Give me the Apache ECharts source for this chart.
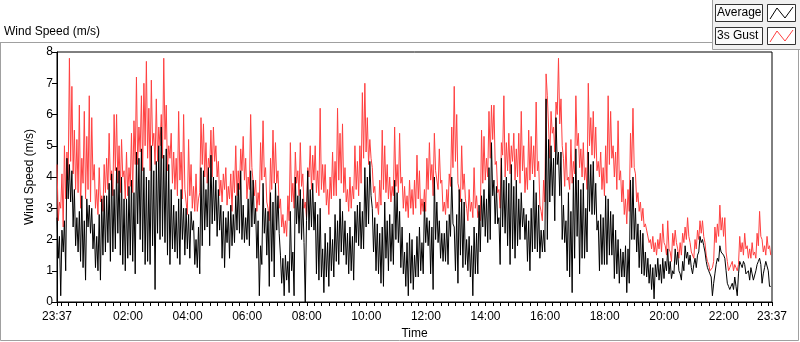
<!DOCTYPE html>
<html>
<head>
<meta charset="utf-8">
<script src="https://cdn.jsdelivr.net/npm/echarts@6/dist/echarts.min.js"></script>
<style>
  html, body { margin: 0; padding: 0; background: #fff; }
  #chart { width: 800px; height: 342px; }
</style>
</head>
<body>
<div id="chart"></div>
<script>
// one sample every 2.5 minutes, starting at 23:37
var stepMin = 2.5;

var gust = [
  4.4, 2.6, 3.2, 3.0, 4.1, 2.4, 5.0, 3.3, 4.8, 3.9, 7.8, 4.5, 6.9, 4.1, 5.5, 3.6,
  5.2, 3.5, 6.3, 3.0, 4.6, 3.8, 6.1, 3.3, 5.3, 3.6, 6.6, 3.2, 5.9, 3.9, 4.4, 3.0,
  3.6, 2.8, 4.3, 3.2, 3.4, 2.9, 4.4, 3.5, 4.6, 3.6, 5.4, 3.9, 4.2, 3.4, 6.0, 4.2,
  6.0, 3.8, 5.0, 3.5, 5.2, 4.0, 4.2, 3.3, 4.8, 3.4, 4.3, 3.7, 5.4, 3.5, 5.8, 4.4,
  7.2, 4.4, 5.6, 4.8, 6.6, 4.2, 7.0, 5.0, 7.7, 4.6, 6.2, 4.2, 7.1, 5.0, 5.4, 4.4,
  6.5, 4.5, 5.6, 5.0, 6.0, 4.6, 7.8, 5.2, 6.3, 4.2, 5.0, 4.6, 5.4, 3.8, 4.8, 3.6,
  4.6, 3.4, 6.1, 3.9, 4.8, 3.3, 6.0, 3.6, 3.2, 2.8, 5.2, 3.4, 4.4, 3.0, 3.7, 2.9,
  4.1, 2.9, 3.3, 3.5, 5.9, 4.4, 5.7, 4.0, 5.1, 3.8, 4.6, 4.3, 5.5, 4.0, 5.6, 4.5,
  5.0, 4.0, 4.5, 3.4, 3.9, 3.2, 4.1, 3.6, 4.3, 3.1, 3.7, 3.3, 4.1, 2.9, 4.2, 3.5,
  5.0, 3.4, 4.2, 3.6, 4.9, 4.2, 5.3, 3.9, 4.6, 3.3, 4.0, 3.6, 6.0, 4.3, 4.3, 3.4,
  3.9, 2.9, 3.5, 3.1, 5.1, 3.9, 5.8, 4.0, 4.3, 3.2, 3.0, 2.6, 4.6, 3.6, 5.5, 3.8,
  5.1, 3.8, 4.2, 3.0, 3.3, 2.4, 2.8, 2.2, 2.6, 2.1, 3.4, 2.6, 5.1, 3.2, 3.8, 3.0,
  4.8, 3.8, 4.2, 3.4, 5.1, 3.7, 4.1, 3.0, 3.2, 2.7, 4.3, 4.0, 5.0, 3.6, 4.7, 3.9,
  5.0, 3.5, 4.2, 3.4, 6.2, 3.6, 4.4, 3.5, 4.4, 3.1, 3.6, 2.8, 4.0, 3.3, 4.8, 3.4,
  4.5, 3.4, 6.2, 3.9, 5.4, 3.8, 5.7, 3.5, 4.3, 3.2, 3.6, 2.9, 4.0, 3.0, 3.7, 3.3,
  5.0, 3.6, 4.5, 3.4, 5.0, 3.8, 6.7, 4.6, 7.0, 4.8, 5.9, 4.4, 5.2, 4.6, 4.3, 3.5,
  3.7, 3.0, 3.2, 2.8, 3.9, 3.1, 5.5, 3.6, 5.0, 3.5, 4.4, 3.3, 4.0, 3.2, 3.7, 3.4,
  5.6, 3.7, 4.4, 3.5, 5.4, 3.8, 4.0, 3.0, 3.7, 2.9, 3.4, 2.7, 3.9, 3.0, 3.6, 2.8,
  3.9, 3.0, 4.7, 3.3, 4.2, 2.8, 3.3, 2.9, 3.6, 2.9, 4.6, 3.6, 5.1, 3.9, 4.4, 3.4,
  5.4, 4.2, 4.2, 3.6, 4.9, 3.8, 3.9, 2.9, 3.2, 2.8, 3.6, 3.0, 4.1, 3.7, 5.6, 4.3,
  6.9, 4.5, 6.0, 3.8, 3.6, 3.2, 5.0, 3.6, 4.1, 3.3, 3.0, 2.6, 3.6, 2.9, 3.2, 2.7,
  4.3, 3.0, 3.4, 2.7, 2.9, 2.6, 5.5, 3.8, 5.3, 3.9, 4.6, 4.0, 6.1, 4.6, 6.3, 5.2,
  6.3, 4.4, 4.5, 3.5, 3.6, 3.0, 5.1, 4.7, 6.6, 4.0, 5.1, 4.2, 5.4, 4.1, 5.0, 4.5,
  5.4, 3.9, 4.9, 4.0, 5.4, 3.8, 6.1, 4.2, 5.0, 3.5, 4.3, 3.6, 5.5, 3.9, 5.3, 4.1,
  5.0, 4.0, 6.4, 4.2, 4.5, 3.1, 2.9, 2.6, 3.9, 3.2, 7.3, 6.6, 5.6, 4.6, 6.1, 5.4,
  5.6, 4.8, 6.4, 6.0, 7.8, 5.7, 6.5, 5.0, 4.6, 3.7, 5.1, 3.9, 4.0, 3.6, 5.2, 3.8,
  4.5, 4.1, 6.6, 5.0, 5.4, 4.3, 4.9, 4.0, 5.1, 3.9, 4.3, 3.6, 7.0, 5.0, 5.9, 4.7,
  6.1, 4.6, 5.6, 4.2, 4.5, 4.0, 4.8, 3.6, 4.3, 3.4, 5.0, 3.8, 6.6, 4.4, 6.1, 4.6,
  5.0, 4.0, 4.8, 3.6, 5.8, 3.9, 4.2, 3.2, 3.9, 2.8, 3.3, 2.5, 3.6, 2.9, 5.4, 4.3,
  6.2, 4.3, 4.1, 3.2, 3.5, 2.9, 3.2, 2.6, 3.0, 2.4, 2.5, 2.3, 2.3, 1.9, 2.0, 1.7,
  2.1, 1.6, 1.9, 1.5, 2.0, 1.7, 2.2, 1.6, 2.5, 1.9, 1.8, 1.5, 2.6, 1.7, 1.6, 1.3,
  2.2, 1.8, 2.3, 1.9, 1.7, 1.4, 1.9, 1.5, 2.2, 1.9, 2.4, 2.0, 2.7, 2.1, 1.9, 1.6,
  1.6, 1.4, 2.0, 1.7, 2.3, 2.0, 2.6, 2.2, 2.6, 2.1, 1.9, 1.5, 1.3, 1.2, 1.0, 1.0,
  1.1, 1.3, 2.4, 1.9, 2.5, 2.1, 3.1, 2.3, 2.7, 2.1, 2.7, 1.6, 1.3, 1.0, 1.1, 1.2,
  1.3, 1.0, 1.2, 1.1, 1.0, 1.2, 2.1, 1.6, 1.9, 1.5, 2.2, 1.7, 1.8, 1.4, 1.7, 1.4,
  1.9, 1.5, 1.6, 1.4, 2.2, 1.8, 2.9, 2.1, 2.0, 1.6, 1.8, 1.5, 2.1, 1.7, 1.8, 1.5
];

var average = [
  2.7, 1.4, 2.1, 0.2, 2.3, 1.6, 2.6, 1.0, 4.6, 3.3, 4.4, 3.2, 4.2, 2.4, 3.6, 1.8,
  2.7, 1.6, 2.9, 1.3, 3.4, 1.1, 2.6, 0.7, 3.3, 2.4, 3.1, 2.2, 3.0, 1.7, 2.5, 1.1,
  2.1, 1.0, 2.8, 0.7, 3.3, 1.5, 3.4, 1.6, 3.4, 1.9, 3.8, 1.3, 4.1, 1.6, 3.6, 1.7,
  4.3, 2.2, 4.2, 1.5, 4.0, 1.2, 3.3, 1.0, 3.3, 1.4, 3.7, 1.5, 3.9, 1.3, 3.5, 0.9,
  4.8, 2.5, 4.6, 2.0, 4.9, 1.6, 4.3, 1.2, 4.0, 1.3, 3.9, 1.2, 5.0, 1.8, 4.2, 0.4,
  4.5, 2.2, 5.0, 2.0, 5.6, 2.1, 4.7, 1.9, 4.9, 1.5, 4.4, 1.2, 3.6, 1.7, 3.1, 1.6,
  2.9, 1.4, 3.3, 1.2, 3.6, 2.0, 3.0, 1.5, 3.0, 1.7, 2.8, 1.4, 2.9, 2.3, 2.6, 1.2,
  2.0, 1.1, 2.4, 0.9, 4.3, 1.8, 4.2, 2.3, 3.6, 2.4, 4.3, 1.8, 4.7, 2.5, 4.0, 2.6,
  3.9, 2.1, 3.6, 2.3, 3.1, 1.4, 2.9, 1.1, 2.7, 1.9, 2.9, 1.4, 3.1, 1.8, 2.8, 1.9,
  3.4, 2.3, 3.8, 2.2, 4.2, 2.0, 3.1, 1.9, 2.7, 2.0, 3.3, 1.8, 4.2, 2.4, 3.9, 2.5,
  3.0, 1.4, 2.6, 0.2, 1.8, 1.2, 3.8, 2.2, 3.0, 1.5, 2.9, 0.5, 3.5, 1.3, 3.2, 0.8,
  3.8, 2.3, 3.4, 2.2, 1.5, 0.6, 1.4, 0.2, 1.5, 0.7, 1.3, 0.3, 2.9, 1.0, 1.6, 0.2,
  4.0, 2.5, 3.4, 2.2, 3.6, 2.0, 3.3, 1.9, 0.0, 2.6, 4.2, 2.3, 3.6, 2.4, 3.8, 2.3,
  3.2, 0.9, 2.8, 0.7, 3.0, 0.8, 1.7, 0.3, 2.2, 0.8, 1.9, 0.5, 2.4, 1.0, 2.0, 0.8,
  2.8, 1.3, 2.6, 1.2, 3.3, 1.6, 2.9, 1.5, 2.6, 1.2, 2.2, 0.9, 2.4, 1.0, 2.1, 0.7,
  2.9, 1.9, 3.1, 1.8, 3.2, 1.7, 2.9, 1.7, 4.3, 2.4, 4.0, 2.5, 4.5, 3.4, 3.0, 1.6,
  2.7, 1.0, 2.5, 0.9, 2.2, 0.6, 2.4, 0.5, 3.2, 1.4, 2.6, 1.0, 2.8, 1.3, 2.5, 1.2,
  3.9, 2.0, 3.5, 1.9, 2.9, 1.1, 2.4, 0.9, 1.6, 0.5, 1.9, 0.2, 2.2, 0.6, 2.0, 0.4,
  1.5, 0.8, 2.1, 0.8, 2.4, 1.0, 1.9, 0.9, 3.2, 1.9, 2.7, 1.8, 2.6, 0.9, 2.4, 0.4,
  4.0, 2.0, 3.2, 1.9, 2.6, 1.4, 2.2, 1.3, 2.2, 1.3, 2.6, 1.2, 2.8, 2.1, 4.0, 2.5,
  2.4, 1.0, 2.8, 0.6, 3.6, 1.5, 3.3, 1.1, 3.2, 1.2, 2.0, 1.0, 2.1, 0.8, 1.8, 0.2,
  2.4, 0.9, 2.2, 0.9, 3.1, 1.6, 3.4, 2.4, 3.6, 2.1, 3.3, 1.9, 4.3, 2.0, 5.1, 3.4,
  3.9, 2.5, 3.7, 2.5, 2.7, 1.2, 4.6, 2.4, 3.9, 2.2, 4.0, 1.8, 3.8, 1.2, 4.4, 1.7,
  3.7, 1.4, 3.9, 1.8, 3.3, 2.0, 3.5, 2.4, 3.0, 2.0, 2.8, 1.3, 2.6, 1.0, 3.0, 1.6,
  3.9, 1.7, 3.5, 1.6, 3.1, 1.4, 2.3, 1.6, 2.3, 1.6, 6.5, 2.0, 5.2, 3.2, 5.0, 3.4,
  4.6, 2.6, 5.9, 4.4, 4.8, 3.4, 4.8, 2.0, 3.1, 1.9, 2.6, 1.0, 3.5, 0.8, 2.9, 0.3,
  4.0, 1.4, 4.9, 2.1, 3.9, 0.9, 3.6, 1.4, 3.8, 1.4, 3.0, 1.6, 4.8, 2.9, 4.4, 2.8,
  4.5, 2.8, 3.8, 2.3, 2.6, 1.0, 2.8, 1.2, 2.7, 1.2, 3.4, 1.2, 3.3, 1.5, 2.9, 1.5,
  2.8, 0.75, 2.3, 0.9, 2.0, 0.6, 1.7, 0.8, 1.6, 0.8, 1.8, 0.3, 1.7, 0.6, 3.9, 2.0,
  4.0, 2.0, 3.0, 1.6, 2.5, 1.1, 2.3, 0.9, 2.2, 0.85, 1.6, 0.8, 1.4, 0.6, 1.2, 0.4,
  1.1, 0.1, 1.2, 0.8, 1.4, 0.7, 1.2, 0.6, 1.4, 0.75, 1.3, 1.0, 1.7, 0.9, 1.3, 0.75,
  1.0, 0.9, 1.7, 1.2, 1.6, 1.0, 0.9, 0.7, 1.3, 1.0, 1.8, 1.4, 1.6, 1.2, 1.5, 1.1,
  0.9, 1.2, 1.4, 1.1, 1.5, 1.6, 2.1, 1.9, 2.0, 1.8, 1.6, 1.3, 1.1, 1.0, 0.9, 0.8,
  0.2, 0.6, 0.9, 1.2, 1.4, 1.3, 1.8, 1.6, 1.6, 1.5, 1.4, 1.0, 0.6, 0.5, 0.4, 0.5,
  0.6, 0.4, 0.8, 0.5, 0.2, 0.9, 1.3, 1.2, 1.1, 1.3, 1.2, 0.9, 0.9, 1.0, 0.7, 1.1,
  0.9, 0.7, 0.75, 1.0, 1.2, 1.3, 1.4, 1.2, 0.6, 0.9, 1.1, 1.3, 1.3, 1.0, 0.5, 0.5
];

// minutes after 23:37 where the time labels sit
var labelMinutes = [0, 143, 263, 383, 503, 623, 743, 863, 983, 1103, 1223, 1343, 1440];
var labelTexts = ["23:37", "02:00", "04:00", "06:00", "08:00", "10:00", "12:00",
                  "14:00", "16:00", "18:00", "20:00", "22:00", "23:37"];

var font = "Liberation Sans";

function toPairs(values) {
  return values.map(function (v, i) {
    return [i * stepMin, v];
  });
}

// small ticks every 15 minutes (23:45, 00:00, ...) plus both ends
var tickMinutes = [0];
for (var m = 8; m < 1440; m += 15) tickMinutes.push(m);
tickMinutes.push(1440);

var chart = echarts.init(document.getElementById("chart"), null, { renderer: "canvas" });

var option = {
  animation: false,
  backgroundColor: "#fff",
  textStyle: { fontFamily: font },
  grid: {
    left: 57,
    right: 28,
    top: 52,
    bottom: 40,
    outerBoundsMode: "none",
    show: true,
    borderColor: "#000",
    borderWidth: 1,
    backgroundColor: "#fff",
  },
  xAxis: {
    type: "value",
    min: 0,
    max: 1440,
    name: "Time",
    nameLocation: "middle",
    nameGap: 25,
    nameTextStyle: { color: "#000", fontSize: 12, fontFamily: font },
    axisLine: { show: true, lineStyle: { color: "#000", width: 1 } },
    axisTick: {
      show: true,
      length: 4,
      customValues: tickMinutes,
      lineStyle: { color: "#000" },
    },
    axisLabel: {
      color: "#000",
      fontSize: 12,
      fontFamily: font,
      margin: 9,
      customValues: labelMinutes,
      formatter: function (v) {
        var idx = labelMinutes.indexOf(Math.round(v));
        return idx >= 0 ? labelTexts[idx] : "";
      },
    },
    splitLine: { show: false },
  },
  yAxis: {
    type: "value",
    min: 0,
    max: 8,
    interval: 1,
    name: "Wind Speed (m/s)",
    nameLocation: "middle",
    nameGap: 21,
    nameTextStyle: { color: "#000", fontSize: 12, fontFamily: font },
    axisLine: { show: true, lineStyle: { color: "#000", width: 1 } },
    axisTick: { show: true, length: 5, lineStyle: { color: "#000" } },
    axisLabel: { color: "#000", fontSize: 12, fontFamily: font, margin: 4 },
    splitLine: { show: false },
  },
  series: [
    {
      name: "3s Gust",
      type: "line",
      data: toPairs(gust),
      showSymbol: false,
      lineStyle: { color: "#ff4040", width: 1 },
      itemStyle: { color: "#ff4040" },
      z: 2,
    },
    {
      name: "Average",
      type: "line",
      data: toPairs(average),
      showSymbol: false,
      lineStyle: { color: "#000", width: 1 },
      itemStyle: { color: "#000" },
      z: 3,
    },
  ],
  graphic: [
    // title
    {
      type: "text",
      left: 4,
      top: 26,
      style: { text: "Wind Speed (m/s)", fill: "#000", font: "12px " + font },
    },
    // outer frame
    {
      type: "polyline",
      shape: { points: [[0, 42.5], [712, 42.5]] },
      style: { stroke: "#a0a0a0", lineWidth: 1, fill: null },
    },
    {
      type: "polyline",
      shape: { points: [[0.5, 42], [0.5, 340.5], [798.5, 340.5], [798.5, 49]] },
      style: { stroke: "#a0a0a0", lineWidth: 1, fill: null },
    },
    // legend panel
    {
      type: "rect",
      shape: { x: 712, y: 0, width: 88, height: 49 },
      style: { fill: "#f0f0f0" },
    },
    {
      type: "polyline",
      shape: { points: [[712.5, 0], [712.5, 49.5], [800, 49.5]] },
      style: { stroke: "#a0a0a0", lineWidth: 1, fill: null },
    },
    {
      type: "rect",
      shape: { x: 715.5, y: 4.5, width: 47, height: 17 },
      style: { fill: "#fafafa", stroke: "#333", lineWidth: 1 },
    },
    {
      type: "text",
      left: 717,
      top: 7,
      style: { text: "Average", fill: "#000", font: "12px " + font },
    },
    {
      type: "rect",
      shape: { x: 767.5, y: 4.5, width: 28, height: 17 },
      style: { fill: "#fff", stroke: "#333", lineWidth: 1 },
    },
    {
      type: "polyline",
      shape: { points: [[770, 19], [777, 8], [785, 18], [793, 7]] },
      style: { stroke: "#000", lineWidth: 1, fill: null },
    },
    {
      type: "rect",
      shape: { x: 715.5, y: 27.5, width: 47, height: 17 },
      style: { fill: "#fafafa", stroke: "#333", lineWidth: 1 },
    },
    {
      type: "text",
      left: 717,
      top: 30,
      style: { text: "3s Gust", fill: "#000", font: "12px " + font },
    },
    {
      type: "rect",
      shape: { x: 767.5, y: 27.5, width: 28, height: 17 },
      style: { fill: "#fff", stroke: "#333", lineWidth: 1 },
    },
    {
      type: "polyline",
      shape: { points: [[770, 42], [777, 31], [785, 41], [793, 30]] },
      style: { stroke: "#ff4040", lineWidth: 1, fill: null },
    },
  ],
};

chart.setOption(option);
</script>
</body>
</html>
